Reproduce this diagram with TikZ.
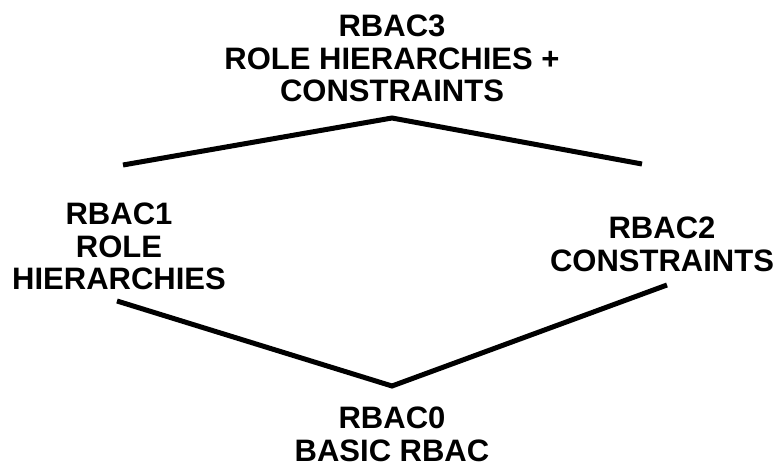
\documentclass[tikz,border=0pt]{standalone}
\usepackage{fontspec}
\setmainfont{Liberation Sans}
\usepackage{tikz}
\usetikzlibrary{positioning}

\begin{document}
\begin{tikzpicture}[x=1pt,y=-1pt]
\tikzstyle{level}=[inner sep=0pt,align=center,anchor=north,font=\fontsize{31}{32.5}\selectfont\bfseries]
\tikzstyle{edge}=[black,line width=5pt]
\useasboundingbox (0,0) rectangle (777,468);
\node [level] (rbac3) at (392,15) {RBAC3\\ROLE HIERARCHIES +\\CONSTRAINTS};
\node [level] (rbac1) at (119,203) {RBAC1\\ROLE\\HIERARCHIES};
\node [level] (rbac2) at (662,217) {RBAC2\\CONSTRAINTS};
\node [level] (rbac0) at (392,407) {RBAC0\\BASIC RBAC};
\coordinate (top) at (392,118);
\coordinate (topl) at (123,165);
\coordinate (topr) at (642,164);
\coordinate (bot) at (392,386);
\coordinate (botl) at (117,301);
\coordinate (botr) at (667,285);
\draw [edge] (topl) -- (top) -- (topr);
\draw [edge] (botl) -- (bot) -- (botr);
\end{tikzpicture}
\end{document}
